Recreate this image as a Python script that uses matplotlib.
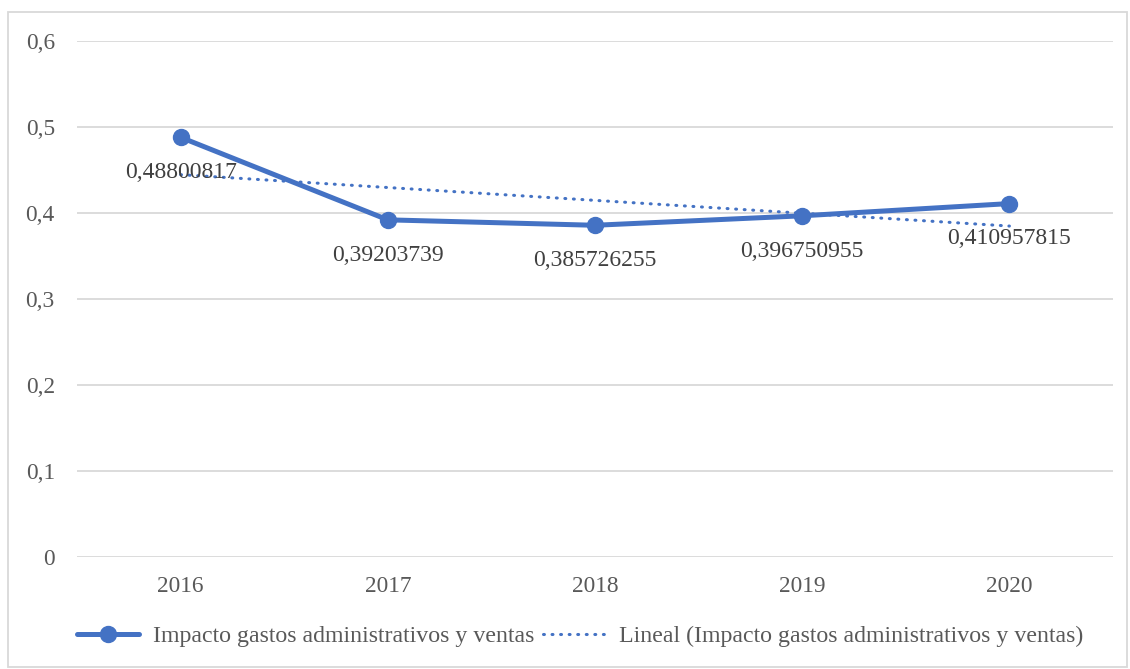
import numpy as np
import matplotlib
matplotlib.use("Agg")
import matplotlib.pyplot as plt
from matplotlib.patches import Rectangle

years = ["2016", "2017", "2018", "2019", "2020"]
impacto = [0.48800817, 0.39203739, 0.385726255, 0.396750955, 0.410957815]
label_text = ["0,48800817", "0,39203739", "0,385726255", "0,396750955", "0,410957815"]
yticks = [0, 0.1, 0.2, 0.3, 0.4, 0.5, 0.6]
ytick_labels = ["0", "0,1", "0,2", "0,3", "0,4", "0,5", "0,6"]

blue = "#4472C4"
text_gray = "#595959"
grid_gray = "#D9D9D9"

plt.rcParams["font.family"] = ["Liberation Serif", "DejaVu Serif"]

fig = plt.figure(figsize=(11.30, 6.69), dpi=100)
ax = fig.add_axes([77 / 1130, 1 - 557 / 669, (1113 - 77) / 1130, (557 - 41) / 669])

x = np.arange(len(years))
ax.plot(x, impacto, color=blue, lw=3.6, marker="o", ms=11.5, zorder=3,
        solid_capstyle="round", solid_joinstyle="round",
        label="Impacto gastos administrativos y ventas")

# linear trend line fitted over the series
slope, intercept = np.polyfit(x, impacto, 1)
trend = slope * x + intercept
ax.plot(x, trend, color=blue, lw=2.2, linestyle=(0, (0.3, 2.5)),
        dash_capstyle="round", zorder=2,
        label="Lineal (Impacto gastos administrativos y ventas)")

for xi, yi, txt in zip(x, impacto, label_text):
    ax.annotate(txt, (xi, yi), xytext=(0, -25.5), textcoords="offset points",
                ha="center", va="center", fontsize=17, color="#404040", zorder=4)

ax.set_xlim(-0.5, 4.5)
ax.set_ylim(0, 0.6)
ax.set_yticks(yticks)
ax.set_yticklabels(ytick_labels)
ax.set_xticks(x)
ax.set_xticklabels(years)
ax.tick_params(axis="both", length=0, labelsize=16.8, colors=text_gray)
ax.tick_params(axis="y", pad=16)
ax.tick_params(axis="x", pad=14)
ax.grid(axis="y", color=grid_gray, lw=1.3)
ax.set_axisbelow(True)
for s in ax.spines.values():
    s.set_visible(False)

leg = ax.legend(loc="center", bbox_to_anchor=(580 / 1130, 1 - 636 / 669),
                bbox_transform=fig.transFigure, ncol=2, frameon=False,
                fontsize=17.2, handlelength=2.6, handletextpad=0.6,
                columnspacing=0.35, labelcolor=text_gray)

fig.patches.append(Rectangle((8 / 1130, 2 / 669), 1119 / 1130, 655 / 669,
                             transform=fig.transFigure, fill=False,
                             edgecolor="#D9D9D9", lw=1.3))

fig.savefig("out.png", dpi=100)
